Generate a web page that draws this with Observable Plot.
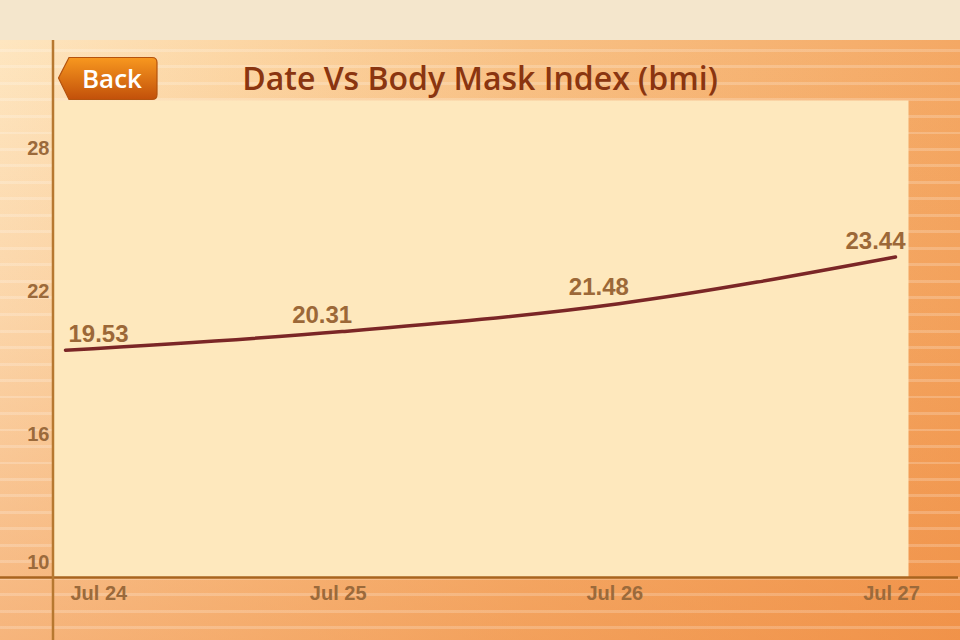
<!DOCTYPE html>
<html>
<head>
<meta charset="utf-8">
<script src="https://cdn.jsdelivr.net/npm/d3@7"></script>
<script src="https://cdn.jsdelivr.net/npm/@observablehq/plot@0.6"></script>
<style>
  html, body { margin: 0; padding: 0; width: 960px; height: 640px; overflow: hidden; }
  #page { position: relative; width: 960px; height: 640px; background: #F4E6CC; }
  #bg {
    position: absolute; left: 0; top: 40px; width: 960px; height: 600px;
    background:
      repeating-linear-gradient(to bottom, rgba(255,255,255,0) 0px, rgba(255,255,255,0) 9px, rgba(255,255,255,0.2) 9px, rgba(255,255,255,0.2) 12px, rgba(255,255,255,0) 12px, rgba(255,255,255,0) 16.5px),
      linear-gradient(to bottom, rgba(236,120,40,0) 0%, rgba(236,120,40,0.15) 45%, rgba(236,120,40,0.45) 100%),
      linear-gradient(to right, #FEE6C0 0%, #FCD6A4 25%, #F8C185 55%, #F4A864 100%);
  }
  #chart { position: absolute; left: 0; top: 40px; }
  #title {
    position: absolute; left: 0; width: 960px; top: 57px; text-align: center;
    font-family: "Open Sans", Lato, sans-serif; font-weight: 600; font-size: 32px;
    color: #8A3510; line-height: 42px;
  }
  #back { position: absolute; left: 57px; top: 56px; }
</style>
</head>
<body>
<div id="page">
  <div id="bg"></div>
  <div id="chart"></div>
  <div id="title">Date Vs Body Mask Index (bmi)</div>
  <svg id="back" width="102" height="46" viewBox="0 0 102 46">
    <defs>
      <linearGradient id="bg1" x1="0" y1="0" x2="0" y2="1">
        <stop offset="0" stop-color="#F8981F"/>
        <stop offset="1" stop-color="#C2500A"/>
      </linearGradient>
    </defs>
    <path d="M1.5,22 L12,1.5 L95,1.5 Q100,1.5 100,6.5 L100,38.5 Q100,43.5 95,43.5 L12,43.5 Z" fill="url(#bg1)" stroke="#B4530E" stroke-width="1.2"/>
    <text x="55" y="32" text-anchor="middle" fill="#FFFFFF" font-family="'Open Sans', Lato, sans-serif" font-weight="600" font-size="26">Back</text>
  </svg>
</div>
<script>
const dates = ["2012-07-24", "2012-07-25", "2012-07-26", "2012-07-27"];
const bmi = [19.53, 20.31, 21.48, 23.44];
const xTickLabels = ["Jul 24", "Jul 25", "Jul 26", "Jul 27"];
const yTicks = [10, 16, 22, 28];

const data = dates.map((d, i) => ({date: new Date(d + "T00:00:00Z"), bmi: bmi[i], label: bmi[i].toFixed(2)}));
const xTicks = dates.map((d, i) => ({date: new Date(d + "T00:00:00Z"), label: xTickLabels[i]}));

const tickColor = "#9B6A3B";
const font = "'Liberation Sans', Arial, sans-serif";

const plot = Plot.plot({
  width: 960,
  height: 600,
  marginTop: 60,
  marginBottom: 63,
  marginLeft: 53,
  marginRight: 52,
  style: {background: "transparent", overflow: "visible", fontFamily: font},
  x: {type: "utc", domain: [xTicks[0].date, xTicks[xTicks.length - 1].date], insetLeft: 12, insetRight: 13, axis: null},
  y: {domain: [10, 30], axis: null},
  marks: [
    Plot.frame({fill: "#FEE8BD", stroke: "none"}),
    Plot.line(data, {x: "date", y: "bmi", curve: "monotone-x", stroke: "#7B2626", strokeWidth: 3.5}),
    // value labels
    Plot.text(data.slice(0, 1), {x: "date", y: "bmi", text: "label", dy: -16, dx: 3, textAnchor: "start", fill: "#9C6838", fontSize: 24, fontWeight: "bold"}),
    Plot.text(data.slice(1), {x: "date", y: "bmi", text: "label", dy: -16, dx: -20, textAnchor: "middle", fill: "#9C6838", fontSize: 24, fontWeight: "bold"}),
    // y tick labels
    Plot.text(yTicks.slice(1), {y: d => d, text: d => String(d), frameAnchor: "left", dx: -4, textAnchor: "end", fill: tickColor, fontSize: 20, fontWeight: "bold"}),
    Plot.text(yTicks.slice(0, 1), {y: d => d, text: d => String(d), frameAnchor: "left", dx: -4, dy: -15, textAnchor: "end", fill: tickColor, fontSize: 20, fontWeight: "bold"}),
    // x tick labels
    Plot.text(xTicks.slice(0, 1), {x: "date", text: "label", frameAnchor: "bottom", dy: 22, dx: 5, textAnchor: "start", fill: tickColor, fontSize: 20, fontWeight: "bold"}),
    Plot.text(xTicks.slice(1), {x: "date", text: "label", frameAnchor: "bottom", dy: 22, dx: -4, textAnchor: "middle", fill: tickColor, fontSize: 20, fontWeight: "bold"}),
    // axis lines
    Plot.ruleY([yTicks[0]], {stroke: "#A9641F", strokeWidth: 2.5, insetLeft: -53, insetRight: -50}),
    Plot.ruleX([xTicks[0].date], {dx: -12.5, stroke: "#B77830", strokeWidth: 2.5, insetTop: -60, insetBottom: -63})
  ]
});
document.getElementById("chart").appendChild(plot);
</script>
</body>
</html>
